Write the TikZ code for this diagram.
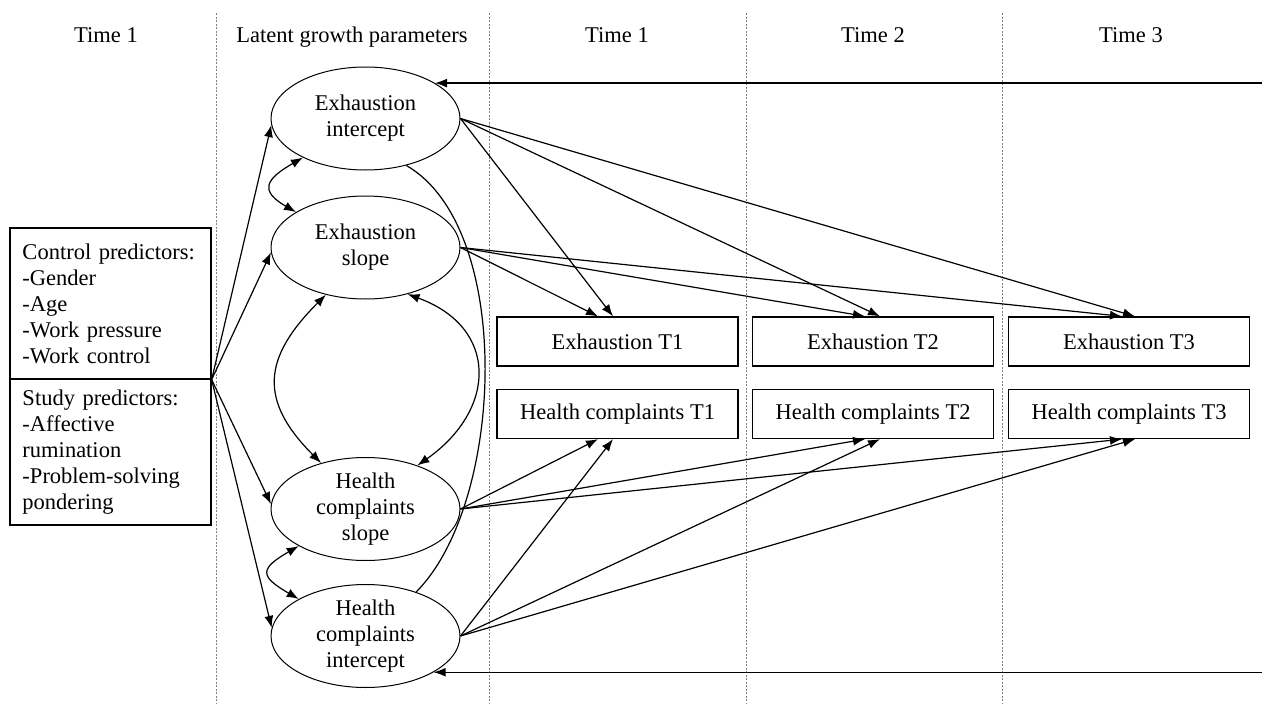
\documentclass[tikz,border=0pt]{standalone}
\usepackage{fontspec}
\setmainfont{Liberation Serif}
\usetikzlibrary{arrows.meta,shapes.geometric,calc}
\begin{document}
\begin{tikzpicture}[x=1pt,y=-1pt,
  font=\fontsize{22.5}{26}\selectfont,
  lat/.style={ellipse, draw, line width=1pt, minimum width=189pt, minimum height=103pt, inner sep=0pt},
  obs/.style={rectangle, draw, line width=1.3pt, minimum width=241pt, minimum height=49pt, inner sep=0pt},
  predbox/.style={rectangle, draw, line width=1.3pt, minimum width=201pt, text width=176pt, align=left, inner sep=0pt},
  path/.style={line width=1.2pt, -{Latex[length=12pt,width=9pt]}},
  cov/.style={line width=1.2pt, {Latex[length=12pt,width=9pt]}-{Latex[length=12pt,width=9pt]}},
  plain/.style={line width=1.2pt},
  sep/.style={gray, line width=0.6pt, dash pattern=on 2pt off 1.5pt},
  hdr/.style={anchor=base, inner sep=0pt}]
\useasboundingbox (0,0) rectangle (1262,704);

% column separators
\draw[sep] (216.7,13) -- (216.7,703);
\draw[sep] (489,13) -- (489,703);
\draw[sep] (746,13) -- (746,703);
\draw[sep] (1002,13) -- (1002,703);

% headers
\node[hdr] (t0) at (106,42) {Time 1};
\node[hdr] (tl) at (352,42) {Latent growth parameters};
\node[hdr] (t1) at (617,42) {Time 1};
\node[hdr] (t2) at (873,42) {Time 2};
\node[hdr] (t3) at (1131,42) {Time 3};

% predictor box
\node[predbox, minimum height=151pt] (ctrl) at (110.5,303.5) {\hyphenpenalty=10000 Control predictors:\\-Gender\\-Age\\-Work pressure\\-Work control};
\node[predbox, minimum height=146pt] (study) at (110.5,452) {\hyphenpenalty=10000 Study predictors:\\-Affective\\rumination\\-Problem-solving\\pondering};
\coordinate (pred) at (ctrl.south east);

% latent ellipses
\node[lat, label={[align=center]center:{Exhaustion\\intercept}}] (ei) at (365.5,118.5) {};
\node[lat, label={[align=center]center:{Exhaustion\\slope}}] (es) at (365.5,247.5) {};
\node[lat, label={[align=center]center:{Health\\complaints\\slope}}] (hs) at (365.5,509) {};
\node[lat, label={[align=center]center:{Health\\complaints\\intercept}}] (hi) at (365.5,636) {};

% observed boxes
\node[obs] (e1) at (617.5,341.5) {Exhaustion T1};
\node[obs] (c1) at (617.5,414) {Health complaints T1};
\node[obs] (e2) at (873,341.5) {Exhaustion T2};
\node[obs] (c2) at (873,414) {Health complaints T2};
\node[obs] (e3) at (1129,341.5) {Exhaustion T3};
\node[obs] (c3) at (1129,414) {Health complaints T3};

% predictors -> latent
\draw[path] (pred) -- (ei.184);
\draw[path] (pred) -- (es.183);
\draw[path] (pred) -- (hs.177);
\draw[path] (pred) -- (hi.175);

% latent -> observed
\draw[path] (ei.east) -- ([xshift=-4.5pt]e1.north);
\draw[path] (ei.east) -- ([xshift=7pt]e2.north);
\draw[path] (ei.east) -- ([xshift=6pt]e3.north);
\draw[path] (es.east) -- ([xshift=-19.5pt]e1.north);
\draw[path] (es.east) -- ([xshift=-8pt]e2.north);
\draw[path] (es.east) -- ([xshift=-7pt]e3.north);
\draw[path] (hs.east) -- ([xshift=-19.5pt]c1.south);
\draw[path] (hs.east) -- ([xshift=-8pt]c2.south);
\draw[path] (hs.east) -- ([xshift=-7pt]c3.south);
\draw[path] (hi.east) -- ([xshift=-4.5pt]c1.south);
\draw[path] (hi.east) -- ([xshift=7pt]c2.south);
\draw[path] (hi.east) -- ([xshift=6pt]c3.south);

% long horizontal arrows from the right edge
\coordinate (R) at (1262,0);
\draw[path] (ei.27 -| R) -- (ei.27);
\draw[path] (hi.-28 -| R) -- (hi.-28);

% covariances
\draw[cov] (ei.212) to[out=210,in=150,looseness=2] (es.153);
\draw[cov] (es.230) to[out=225,in=135,looseness=1.35] (hs.134);
\draw[cov] (es.312) to[out=-20,in=35,looseness=1.45] (hs.40);
\draw[plain] (ei.311) to[out=-30,in=45,looseness=0.75] (hi.41);
\draw[cov] (hs.209) to[out=210,in=150,looseness=2.2] (hi.151);
\end{tikzpicture}
\end{document}
